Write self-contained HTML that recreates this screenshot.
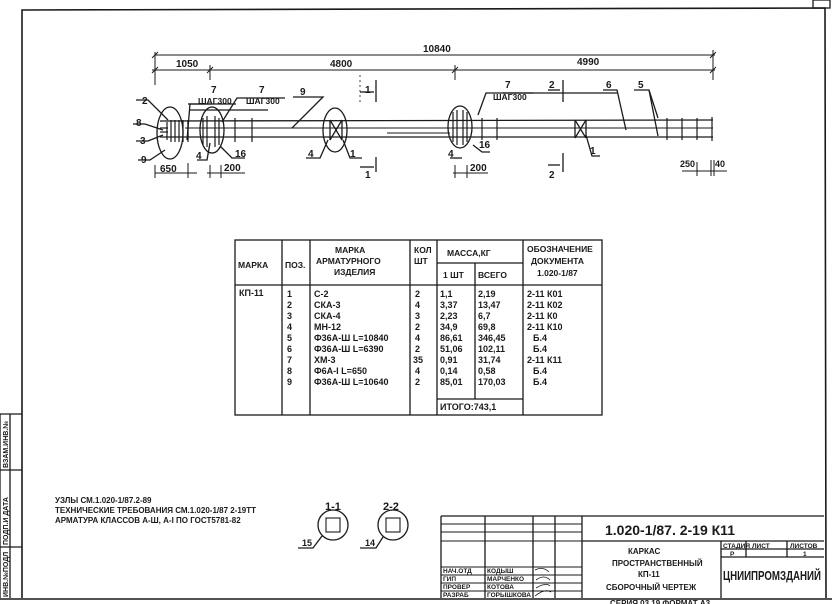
<!DOCTYPE html>
<html><head><meta charset="utf-8"><style>
html,body{margin:0;padding:0;background:#fff;}
svg{display:block;}
text{font-family:"Liberation Sans","Noto Sans CJK SC",sans-serif;font-weight:bold;fill:#1a1a1a;}
</style></head><body>
<svg width="832" height="604" viewBox="0 0 832 604" xmlns="http://www.w3.org/2000/svg">
<g stroke="#1a1a1a" fill="none" stroke-width="1.3">
<!-- frame -->
<polyline points="22,598 22,10 825,8 826,598" stroke-width="1.6"/>
<line x1="0" y1="599" x2="832" y2="599" stroke-width="1.6"/>
<rect x="813" y="0" width="17" height="8"/>
<!-- left strip -->
<line x1="10" y1="414" x2="10" y2="598"/>
<line x1="0" y1="414" x2="22" y2="414"/>
<line x1="0" y1="470" x2="22" y2="470"/>
<line x1="0" y1="547" x2="22" y2="547"/>
<line x1="0" y1="414" x2="0" y2="598"/>

<!-- dimension lines -->
<line x1="155" y1="55" x2="715" y2="55" stroke-width="1"/>
<line x1="152" y1="70" x2="715" y2="70" stroke-width="1"/>
<line x1="155" y1="52" x2="155" y2="85" stroke-width="1"/>
<line x1="210" y1="65" x2="210" y2="80" stroke-width="1"/>
<line x1="455" y1="65" x2="455" y2="80" stroke-width="1"/>
<line x1="713" y1="50" x2="713" y2="80" stroke-width="1"/>
<line x1="152" y1="58" x2="158" y2="52" stroke-width="1"/>
<line x1="152" y1="73" x2="158" y2="67" stroke-width="1"/>
<line x1="207" y1="73" x2="213" y2="67" stroke-width="1"/>
<line x1="452" y1="73" x2="458" y2="67" stroke-width="1"/>
<line x1="710" y1="58" x2="716" y2="52" stroke-width="1"/>
<line x1="710" y1="73" x2="716" y2="67" stroke-width="1"/>

<!-- bars -->
<line x1="160" y1="121" x2="713" y2="120"/>
<line x1="185" y1="128" x2="713" y2="128" stroke-width="1"/>
<line x1="160" y1="137" x2="713" y2="137"/>
<line x1="387" y1="133" x2="450" y2="133" stroke-width="1"/>
<!-- ovals -->
<ellipse cx="170" cy="133" rx="13" ry="26"/>
<ellipse cx="212" cy="130" rx="12" ry="23"/>
<ellipse cx="335" cy="130" rx="12" ry="22"/>
<ellipse cx="460" cy="127" rx="12" ry="21"/>
<!-- stirrups in oval1 -->
<g stroke-width="1.2">
<line x1="167" y1="122" x2="167" y2="140"/><line x1="171" y1="120" x2="171" y2="142"/>
<line x1="175" y1="120" x2="175" y2="142"/><line x1="179" y1="120" x2="179" y2="142"/>
<line x1="183" y1="120" x2="183" y2="142"/><line x1="188" y1="120" x2="188" y2="140"/>
<line x1="160" y1="128" x2="168" y2="128"/><line x1="160" y1="132" x2="168" y2="132"/>
<line x1="188" y1="120" x2="188" y2="142"/>
<line x1="203" y1="118" x2="203" y2="145"/><line x1="207" y1="116" x2="207" y2="147"/>
<line x1="215" y1="116" x2="215" y2="147"/><line x1="219" y1="118" x2="219" y2="145"/>
<line x1="235" y1="118" x2="235" y2="142"/><line x1="252" y1="118" x2="252" y2="142"/>
<line x1="453" y1="112" x2="453" y2="142"/><line x1="457" y1="110" x2="457" y2="145"/>
<line x1="463" y1="110" x2="463" y2="145"/><line x1="467" y1="112" x2="467" y2="142"/>
<line x1="482" y1="118" x2="482" y2="140"/><line x1="497" y1="118" x2="497" y2="140"/>
<line x1="667" y1="118" x2="667" y2="140"/><line x1="682" y1="118" x2="682" y2="140"/>
<line x1="697" y1="118" x2="697" y2="140"/><line x1="712" y1="117" x2="712" y2="141"/>
</g>
<!-- X marks -->
<line x1="330" y1="120" x2="342" y2="140"/><line x1="342" y1="120" x2="330" y2="140"/>
<line x1="330" y1="120" x2="330" y2="140"/><line x1="342" y1="120" x2="342" y2="140"/>
<line x1="575" y1="120" x2="586" y2="138"/><line x1="586" y1="120" x2="575" y2="138"/>
<line x1="575" y1="120" x2="575" y2="138"/><line x1="586" y1="120" x2="586" y2="138"/>
<!-- section marks -->
<line x1="376" y1="80" x2="376" y2="102"/><line x1="360" y1="92" x2="374" y2="92"/>
<line x1="376" y1="157" x2="376" y2="172"/><line x1="360" y1="167" x2="374" y2="167"/>
<line x1="563" y1="80" x2="563" y2="102"/><line x1="548" y1="90" x2="560" y2="90"/>
<line x1="563" y1="153" x2="563" y2="172"/><line x1="548" y1="165" x2="560" y2="165"/>
<line x1="360" y1="75" x2="360" y2="105" stroke-dasharray="2,3" stroke-width="0.8"/>
<!-- leaders -->
<polyline points="136,100 148,100 168,120"/>
<polyline points="133,124 145,124 163,130"/>
<polyline points="136,141 148,141 163,135"/>
<polyline points="138,160 150,160 165,150"/>
<polyline points="188,104 212,104"/>
<polyline points="268,110 190,110"/>
<polyline points="187,140 190,104 236,104"/>
<polyline points="222,122 237,98 285,98"/>
<polyline points="293,97 323,97 292,128"/>
<polyline points="197,160 207,160 210,143"/>
<polyline points="220,146 232,158 245,158"/>
<polyline points="306,158 320,158 328,140"/>
<polyline points="343,140 350,158 362,158"/>
<polyline points="450,158 462,158"/>
<polyline points="478,115 486,93 533,93"/>
<polyline points="473,145 482,152 490,152"/>
<polyline points="503,93 617,93"/>
<polyline points="603,90 617,90 626,130"/>
<polyline points="634,90 649,90 658,118"/>
<polyline points="649,90 658,136"/>
<polyline points="586,135 592,156 600,156"/>
<!-- bottom dims -->
<line x1="155" y1="173" x2="197" y2="173" stroke-width="1"/>
<line x1="155" y1="165" x2="155" y2="178" stroke-width="1"/>
<line x1="188" y1="163" x2="188" y2="178" stroke-width="1"/>
<line x1="207" y1="173" x2="245" y2="173" stroke-width="1"/>
<line x1="210" y1="165" x2="210" y2="178" stroke-width="1"/>
<line x1="221" y1="165" x2="221" y2="178" stroke-width="1"/>
<line x1="453" y1="173" x2="488" y2="173" stroke-width="1"/>
<line x1="455" y1="165" x2="455" y2="178" stroke-width="1"/>
<line x1="467" y1="165" x2="467" y2="178" stroke-width="1"/>
<line x1="682" y1="171" x2="727" y2="171" stroke-width="1"/>
<line x1="697" y1="162" x2="697" y2="176" stroke-width="1"/>
<line x1="711" y1="160" x2="711" y2="176" stroke-width="1"/>
<line x1="714" y1="160" x2="714" y2="176" stroke-width="1"/>

<!-- table -->
<rect x="235" y="240" width="367" height="175"/>
<line x1="235" y1="285" x2="602" y2="285"/>
<line x1="282" y1="240" x2="282" y2="415"/>
<line x1="310" y1="240" x2="310" y2="415"/>
<line x1="410" y1="240" x2="410" y2="415"/>
<line x1="437" y1="240" x2="437" y2="415"/>
<line x1="475" y1="263" x2="475" y2="399"/>
<line x1="523" y1="240" x2="523" y2="415"/>
<line x1="437" y1="263" x2="523" y2="263"/>
<line x1="437" y1="399" x2="523" y2="399"/>

<!-- sections -->
<circle cx="333" cy="525" r="15"/>
<rect x="326" y="518" width="14" height="14" stroke-width="1.1"/>
<circle cx="393" cy="525" r="15"/>
<rect x="386" y="518" width="14" height="14" stroke-width="1.1"/>
<polyline points="298,548 313,548 322,536"/>
<polyline points="360,548 376,548 383,537"/>

<!-- stamp -->
<line x1="441" y1="516" x2="824" y2="516"/>
<line x1="441" y1="516" x2="441" y2="598"/>
<line x1="485" y1="516" x2="485" y2="598"/>
<line x1="533" y1="516" x2="533" y2="598"/>
<line x1="555" y1="516" x2="555" y2="598"/>
<line x1="582" y1="516" x2="582" y2="598"/>
<line x1="582" y1="541" x2="824" y2="541"/>
<g stroke-width="0.9">
<line x1="441" y1="524" x2="582" y2="524"/>
<line x1="441" y1="532" x2="582" y2="532"/>
<line x1="441" y1="541" x2="582" y2="541"/>
<line x1="441" y1="567" x2="582" y2="567"/>
<line x1="441" y1="575" x2="582" y2="575"/>
<line x1="441" y1="583" x2="582" y2="583"/>
<line x1="441" y1="591" x2="582" y2="591"/>
</g>
<line x1="721" y1="541" x2="721" y2="598"/>
<line x1="721" y1="549" x2="824" y2="549"/>
<line x1="721" y1="557" x2="824" y2="557"/>
<line x1="746" y1="541" x2="746" y2="557"/>
<line x1="787" y1="541" x2="787" y2="557"/>
<path d="M535,570 q8,-4 14,2 M536,580 q8,-6 14,0 M536,588 q10,-6 14,-2 M535,596 q10,-8 16,-4" stroke-width="0.8"/>
</g>

<!-- dimension texts -->
<g font-size="10">
<text x="423" y="52">10840</text>
<text x="176" y="67">1050</text>
<text x="330" y="67">4800</text>
<text x="577" y="65">4990</text>
<text x="160" y="172">650</text>
<text x="224" y="171">200</text>
<text x="470" y="171">200</text>
<text x="680" y="167" font-size="9">250</text>
<text x="715" y="167" font-size="9">40</text>
</g>
<g font-size="10">
<text x="142" y="104">2</text>
<text x="136" y="126">8</text>
<text x="140" y="144">3</text>
<text x="141" y="163">9</text>
<text x="211" y="93">7</text>
<text x="259" y="93">7</text>
<text x="198" y="104" font-size="8.5">ШАГ300</text>
<text x="246" y="104" font-size="8.5">ШАГ300</text>
<text x="300" y="95">9</text>
<text x="196" y="159">4</text>
<text x="235" y="157">16</text>
<text x="308" y="157">4</text>
<text x="350" y="157">1</text>
<text x="365" y="93">1</text>
<text x="365" y="178">1</text>
<text x="448" y="157">4</text>
<text x="479" y="148">16</text>
<text x="505" y="88">7</text>
<text x="493" y="100" font-size="8.5">ШАГ300</text>
<text x="549" y="88">2</text>
<text x="549" y="178">2</text>
<text x="606" y="88">6</text>
<text x="638" y="88">5</text>
<text x="590" y="154">1</text>
</g>

<!-- table texts -->
<g font-size="8.5">
<text x="238" y="268">МАРКА</text>
<text x="285" y="268">ПОЗ.</text>
<text x="335" y="253">МАРКА</text>
<text x="316" y="264">АРМАТУРНОГО</text>
<text x="334" y="275">ИЗДЕЛИЯ</text>
<text x="414" y="253">КОЛ</text>
<text x="414" y="264">ШТ</text>
<text x="447" y="256">МАССА,КГ</text>
<text x="443" y="278">1 ШТ</text>
<text x="478" y="278">ВСЕГО</text>
<text x="527" y="252">ОБОЗНАЧЕНИЕ</text>
<text x="531" y="264">ДОКУМЕНТА</text>
<text x="537" y="276">1.020-1/87</text>
</g>
<g font-size="9">
<text x="239" y="296">КП-11</text>
<text x="287" y="297">1</text><text x="287" y="308">2</text><text x="287" y="319">3</text><text x="287" y="330">4</text><text x="287" y="341">5</text><text x="287" y="352">6</text><text x="287" y="363">7</text><text x="287" y="374">8</text><text x="287" y="385">9</text>
<text x="314" y="297">С-2</text><text x="314" y="308">СКА-3</text><text x="314" y="319">СКА-4</text><text x="314" y="330">МН-12</text>
<text x="314" y="341">Ф36А-Ш L=10840</text><text x="314" y="352">Ф36А-Ш L=6390</text><text x="314" y="363">ХМ-3</text>
<text x="314" y="374">Ф6А-I L=650</text><text x="314" y="385">Ф36А-Ш L=10640</text>
<text x="415" y="297">2</text><text x="415" y="308">4</text><text x="415" y="319">3</text><text x="415" y="330">2</text><text x="415" y="341">4</text><text x="415" y="352">2</text><text x="413" y="363">35</text><text x="415" y="374">4</text><text x="415" y="385">2</text>
<text x="440" y="297">1,1</text><text x="440" y="308">3,37</text><text x="440" y="319">2,23</text><text x="440" y="330">34,9</text><text x="440" y="341">86,61</text><text x="440" y="352">51,06</text><text x="440" y="363">0,91</text><text x="440" y="374">0,14</text><text x="440" y="385">85,01</text>
<text x="478" y="297">2,19</text><text x="478" y="308">13,47</text><text x="478" y="319">6,7</text><text x="478" y="330">69,8</text><text x="478" y="341">346,45</text><text x="478" y="352">102,11</text><text x="478" y="363">31,74</text><text x="478" y="374">0,58</text><text x="478" y="385">170,03</text>
<text x="440" y="410">ИТОГО:743,1</text>
<text x="527" y="297">2-11  К01</text><text x="527" y="308">2-11  К02</text><text x="527" y="319">2-11  К0</text><text x="527" y="330">2-11  К10</text>
<text x="533" y="341">Б.4</text><text x="533" y="352">Б.4</text><text x="527" y="363">2-11   К11</text><text x="533" y="374">Б.4</text><text x="533" y="385">Б.4</text>
</g>

<!-- notes -->
<g font-size="8">
<text x="55" y="503">УЗЛЫ СМ.1.020-1/87.2-89</text>
<text x="55" y="513">ТЕХНИЧЕСКИЕ ТРЕБОВАНИЯ СМ.1.020-1/87 2-19ТТ</text>
<text x="55" y="523">АРМАТУРА КЛАССОВ А-Ш, А-I ПО ГОСТ5781-82</text>
</g>
<g font-size="11">
<text x="325" y="510">1-1</text>
<text x="383" y="510">2-2</text>
<text x="302" y="546" font-size="9">15</text>
<text x="365" y="546" font-size="9">14</text>
</g>

<!-- left strip texts -->
<g font-size="7">
<text transform="translate(8,468) rotate(-90)">ВЗАМ.ИНВ.№</text>
<text transform="translate(8,545) rotate(-90)">ПОДП.И ДАТА</text>
<text transform="translate(8,597) rotate(-90)">ИНВ.№ПОДЛ</text>
</g>

<!-- stamp texts -->
<text x="605" y="535" font-size="14" font-weight="normal">1.020-1/87. 2-19  К11</text>
<g font-size="8">
<text x="628" y="554">КАРКАС</text>
<text x="612" y="566">ПРОСТРАНСТВЕННЫЙ</text>
<text x="638" y="577">КП-11</text>
<text x="606" y="590">СБОРОЧНЫЙ ЧЕРТЕЖ</text>
</g>
<g font-size="6.5">
<text x="723" y="548">СТАДИЯ</text><text x="752" y="548">ЛИСТ</text><text x="790" y="548">ЛИСТОВ</text>
<text x="730" y="556">Р</text><text x="803" y="556">1</text>
<text x="443" y="573">НАЧ.ОТД</text><text x="487" y="573">КОДЫШ</text>
<text x="443" y="581">ГИП</text><text x="487" y="581">МАРЧЕНКО</text>
<text x="443" y="589">ПРОВЕР</text><text x="487" y="589">КОТОВА</text>
<text x="443" y="597">РАЗРАБ</text><text x="487" y="597">ГОРЫШКОВА</text>
</g>
<text x="723" y="580" font-size="12.5" font-weight="normal" textLength="98" lengthAdjust="spacingAndGlyphs">ЦНИИПРОМЗДАНИЙ</text>
<text x="610" y="606" font-size="8">СЕРИЯ  03    19    ФОРМАТ А3</text>
</svg>
</body></html>
